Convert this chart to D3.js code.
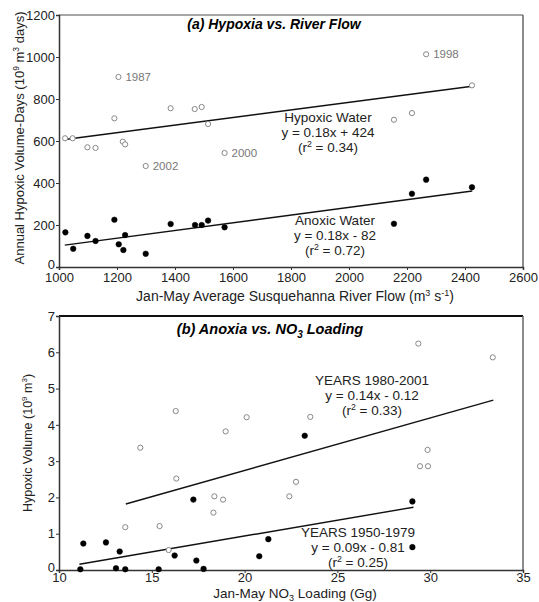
<!DOCTYPE html>
<html>
<head>
<meta charset="utf-8">
<script src="https://cdn.jsdelivr.net/npm/d3@7"></script>
<style>
body { margin: 0; background: #fff; }
text { font-family: "Liberation Sans", Arial, sans-serif; }
</style>
</head>
<body>
<script>
// panel (a): river flow vs hypoxic / anoxic volume-days
var flowHyp = [1021, 1047, 1098, 1126, 1191, 1205, 1220, 1228, 1299, 1385, 1468, 1492, 1514, 1571, 2155, 2217, 2266, 2424];
var volHyp = [613, 613, 570, 567, 708, 905, 597, 584, 481, 756, 752, 762, 681, 543, 701, 733, 1013, 865];
var flowAnox = [1022, 1049, 1098, 1126, 1191, 1206, 1222, 1228, 1299, 1385, 1469, 1492, 1514, 1571, 2155, 2217, 2266, 2424];
var volAnox = [165, 87, 148, 124, 225, 108, 81, 152, 63, 205, 200, 200, 221, 189, 206, 349, 416, 380];
var yearLabels = [["1987", 1205, 905], ["2002", 1299, 481], ["2000", 1571, 543], ["1998", 2266, 1013]];
var fitHypA = [[1020, 607], [2425, 861]];
var fitAnoxA = [[1020, 104], [2425, 362]];
var ticksA_x = [1000, 1200, 1400, 1600, 1800, 2000, 2200, 2400, 2600];
var ticksA_y = [0, 200, 400, 600, 800, 1000, 1200];

// panel (b): NO3 loading vs hypoxic volume
var no3Late = [16.29, 14.38, 20.11, 18.98, 16.32, 18.37, 18.84, 18.32, 13.57, 15.42, 15.91, 29.36, 33.37, 23.54, 29.86, 29.45, 29.88, 22.77, 22.41];
var volLate = [4.38, 3.37, 4.21, 3.82, 2.52, 2.03, 1.94, 1.58, 1.18, 1.21, 0.55, 6.24, 5.86, 4.22, 3.31, 2.86, 2.86, 2.43, 2.03];
var no3Early = [11.31, 12.53, 13.27, 11.15, 13.07, 13.57, 15.37, 17.24, 16.23, 17.40, 17.79, 20.79, 21.28, 23.24, 29.04, 29.04];
var volEarly = [0.73, 0.76, 0.51, 0.02, 0.05, 0.02, 0.02, 1.94, 0.40, 0.26, 0.03, 0.38, 0.85, 3.70, 1.89, 0.63];
var fitLate = [[13.6, 1.82], [33.4, 4.68]];
var fitEarly = [[11.1, 0.16], [29.1, 1.73]];
var ticksB_x = [10, 15, 20, 25, 30, 35];
var ticksB_y = [0, 1, 2, 3, 4, 5, 6, 7];

var W = 539, H = 602;
var svg = d3.select("body").append("svg")
  .attr("width", W)
  .attr("height", H);

function zip(a, b) { return a.map(function(v, i) { return [v, b[i]]; }); }

function panel(opt) {
  var x = d3.scaleLinear().domain(opt.xd).range([59, 523]);
  var y = d3.scaleLinear().domain(opt.yd).range([opt.bottom, opt.top]);
  var g = svg.append("g");

  // frame top + right
  g.append("line").attr("x1", 59).attr("x2", 523).attr("y1", opt.top).attr("y2", opt.top)
    .attr("stroke", opt.topColor).attr("stroke-width", opt.topWidth);
  g.append("line").attr("x1", 523).attr("x2", 523).attr("y1", opt.top).attr("y2", opt.bottom)
    .attr("stroke", "#666").attr("stroke-width", 1.5);

  var xa = g.append("g").attr("transform", "translate(0," + opt.bottom + ")")
    .call(d3.axisBottom(x).tickValues(opt.xt).tickSize(3).tickPadding(opt.xpad).tickFormat(d3.format("d")));
  var ya = g.append("g").attr("transform", "translate(59,0)")
    .call(d3.axisLeft(y).tickValues(opt.yt).tickSize(3).tickPadding(1).tickFormat(d3.format("d")));
  [xa, ya].forEach(function(a) {
    a.select(".domain").attr("stroke", "#333").attr("stroke-width", 1.5);
    a.selectAll(".tick line").attr("stroke", "#333");
    a.selectAll("text").attr("font-size", 13).attr("fill", "#222")
      .style("font-family", "Liberation Sans, Arial, sans-serif");
  });
  // the zero label sits right on top of the first x label, lift it a bit
  ya.selectAll(".tick text").filter(function(d) { return d === 0; }).attr("dy", "0.1em");
  return { g: g, x: x, y: y };
}

function fitLine(p, pts) {
  p.g.append("path")
    .attr("d", d3.line().x(function(d) { return p.x(d[0]); }).y(function(d) { return p.y(d[1]); })(pts))
    .attr("fill", "none").attr("stroke", "#111").attr("stroke-width", 1.4);
}

function dots(p, pts, open) {
  p.g.selectAll(null).data(pts).enter().append("circle")
    .attr("cx", function(d) { return p.x(d[0]); })
    .attr("cy", function(d) { return p.y(d[1]); })
    .attr("r", open ? 2.6 : 2.8)
    .attr("fill", open ? "#fff" : "#000")
    .attr("stroke", open ? "#888" : "#000")
    .attr("stroke-width", open ? 1 : 0.5);
}

function textBlock(cx, y0, lines, size) {
  var t = svg.append("text").attr("text-anchor", "middle").attr("font-size", size).attr("fill", "#222");
  lines.forEach(function(l, i) {
    var tl = t.append("tspan").attr("x", cx).attr("y", y0 + i * 15);
    l.forEach(function(seg) {
      var s = tl.append("tspan").text(seg[0]);
      if (seg[1] == "sup") s.attr("font-size", size * 0.65).attr("dy", -5);
      if (seg[1] == "back") s.attr("dy", 5);
    });
  });
}

// ---------- panel (a)
var pa = panel({ xd: [1000, 2600], yd: [0, 1200], top: 15, bottom: 267,
  xt: ticksA_x, yt: ticksA_y, topColor: "#888", topWidth: 1.5, xpad: 3 });

fitLine(pa, fitHypA);
fitLine(pa, fitAnoxA);
dots(pa, zip(flowHyp, volHyp), true);
dots(pa, zip(flowAnox, volAnox), false);

pa.g.selectAll(null).data(yearLabels).enter().append("text")
  .attr("x", function(d) { return pa.x(d[1]) + 7; })
  .attr("y", function(d) { return pa.y(d[2]) + 4; })
  .attr("font-size", 11.5).attr("fill", "#777")
  .text(function(d) { return d[0]; });

svg.append("text").attr("x", 274).attr("y", 29).attr("text-anchor", "middle")
  .attr("font-size", 14).attr("font-weight", "bold").attr("font-style", "italic")
  .text("(a) Hypoxia vs. River Flow");

textBlock(328, 122, [[["Hypoxic Water"]], [["y = 0.18x + 424"]], [["(r"], ["2", "sup"], [" = 0.34)", "back"]]], 13.5);
textBlock(335, 225, [[["Anoxic Water"]], [["y = 0.18x - 82"]], [["(r"], ["2", "sup"], [" = 0.72)", "back"]]], 13.5);

var xla = svg.append("text").attr("x", 295).attr("y", 301).attr("text-anchor", "middle")
  .attr("font-size", 14).attr("fill", "#222");
xla.append("tspan").text("Jan-May Average Susquehanna River Flow (m");
xla.append("tspan").text("3").attr("font-size", 9).attr("dy", -5);
xla.append("tspan").text(" s").attr("dy", 5);
xla.append("tspan").text("-1").attr("font-size", 9).attr("dy", -5);
xla.append("tspan").text(")").attr("dy", 5);

var yla = svg.append("text").attr("transform", "translate(24,138) rotate(-90)")
  .attr("text-anchor", "middle").attr("font-size", 13).attr("fill", "#222");
yla.append("tspan").text("Annual Hypoxic Volume-Days (10");
yla.append("tspan").text("9").attr("font-size", 8.5).attr("dy", -5);
yla.append("tspan").text(" m").attr("dy", 5);
yla.append("tspan").text("3").attr("font-size", 8.5).attr("dy", -5);
yla.append("tspan").text(" days)").attr("dy", 5);

// ---------- panel (b)
var pb = panel({ xd: [10, 35], yd: [0, 7], top: 316, bottom: 570,
  xt: ticksB_x, yt: ticksB_y, topColor: "#111", topWidth: 2.2, xpad: 0 });

fitLine(pb, fitLate);
fitLine(pb, fitEarly);
dots(pb, zip(no3Late, volLate), true);
dots(pb, zip(no3Early, volEarly), false);

var tb = svg.append("text").attr("x", 270).attr("y", 334).attr("text-anchor", "middle")
  .attr("font-size", 14.5).attr("font-weight", "bold").attr("font-style", "italic");
tb.append("tspan").text("(b) Anoxia vs. NO");
tb.append("tspan").text("3").attr("font-size", 10).attr("dy", 4);
tb.append("tspan").text(" Loading").attr("dy", -4);

textBlock(372, 385, [[["YEARS 1980-2001"]], [["y = 0.14x - 0.12"]], [["(r"], ["2", "sup"], [" = 0.33)", "back"]]], 13.5);
textBlock(358, 537, [[["YEARS 1950-1979"]], [["y = 0.09x - 0.81"]], [["(r"], ["2", "sup"], [" = 0.25)", "back"]]], 13.5);

var xlb = svg.append("text").attr("x", 295).attr("y", 598).attr("text-anchor", "middle")
  .attr("font-size", 13.5).attr("fill", "#222");
xlb.append("tspan").text("Jan-May NO");
xlb.append("tspan").text("3").attr("font-size", 9).attr("dy", 3);
xlb.append("tspan").text(" Loading (Gg)").attr("dy", -3);

var ylb = svg.append("text").attr("transform", "translate(32,443) rotate(-90)")
  .attr("text-anchor", "middle").attr("font-size", 12.5).attr("fill", "#222");
ylb.append("tspan").text("Hypoxic Volume (10");
ylb.append("tspan").text("9").attr("font-size", 8).attr("dy", -5);
ylb.append("tspan").text(" m").attr("dy", 5);
ylb.append("tspan").text("3").attr("font-size", 8).attr("dy", -5);
ylb.append("tspan").text(")").attr("dy", 5);
</script>
</body>
</html>
